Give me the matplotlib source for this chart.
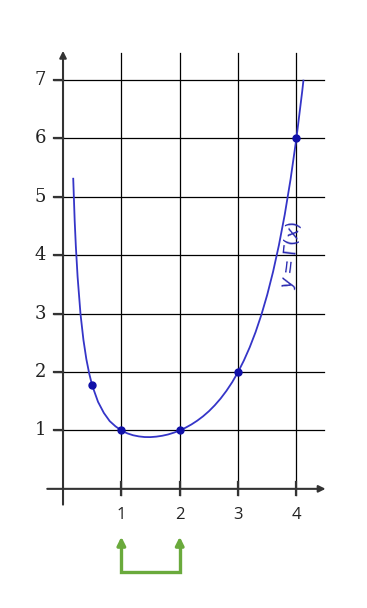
import matplotlib.pyplot as plt

# curve (y = Gamma(x))
curve_x = [0.175, 0.2, 0.22, 0.25, 0.3, 0.35, 0.4, 0.45, 0.5, 0.6, 0.7, 0.8, 0.9, 1.0,
           1.1, 1.2, 1.3, 1.4, 1.5, 1.6, 1.7, 1.8, 1.9, 2.0, 2.1, 2.2, 2.3, 2.4, 2.5,
           2.6, 2.7, 2.8, 2.9, 3.0, 3.1, 3.2, 3.3, 3.4, 3.5, 3.6, 3.7, 3.8, 3.9, 4.0,
           4.1, 4.12]
curve_y = [5.31, 4.59, 4.15, 3.63, 2.99, 2.55, 2.22, 1.97, 1.77, 1.49, 1.30, 1.16, 1.07, 1.0,
           0.951, 0.918, 0.898, 0.887, 0.886, 0.894, 0.909, 0.931, 0.962, 1.0, 1.047, 1.102,
           1.167, 1.242, 1.329, 1.430, 1.545, 1.677, 1.827, 2.0, 2.198, 2.424, 2.683, 2.981,
           3.323, 3.717, 4.171, 4.694, 5.30, 6.0, 6.81, 6.99]

point_x = [0.5, 1, 2, 3, 4]
point_y = [1.77, 1, 1, 2, 6]

xticks = [1, 2, 3, 4]
yticks = [1, 2, 3, 4, 5, 6, 7]

fig = plt.figure(figsize=(3.67, 6.08), dpi=100)
ax = fig.add_axes([0, 0, 1, 1])
ax.set_xlim(-1.08, 5.21)
ax.set_ylim(-2.04, 8.37)
ax.axis('off')

# grid
for y in yticks:
    ax.plot([-0.15, 4.47], [y, y], color='black', lw=0.9)
for x in xticks:
    ax.plot([x, x], [-0.11, 7.47], color='black', lw=0.9)
    ax.plot([x, x], [-0.11, 0.12], color='#333333', lw=1.6)
for y in yticks:
    ax.plot([-0.15, 0], [y, y], color='#333333', lw=1.6)

# axes with arrows
ax.annotate('', xy=(0, 7.5), xytext=(0, -0.27),
            arrowprops=dict(arrowstyle='-|>', color='#333333', lw=1.5,
                            mutation_scale=10, shrinkA=0, shrinkB=0))
ax.annotate('', xy=(4.5, 0), xytext=(-0.27, 0),
            arrowprops=dict(arrowstyle='-|>', color='#333333', lw=1.5,
                            mutation_scale=10, shrinkA=0, shrinkB=0))

# tick labels
for y in yticks:
    ax.text(-0.39, y, str(y), ha='center', va='center', fontsize=13,
            family='DejaVu Serif', color='#222222')
for x in xticks:
    ax.text(x, -0.45, str(x), ha='center', va='center', fontsize=12,
            family='Open Sans', color='#222222')

# gamma curve and points
ax.plot(curve_x, curve_y, color='#3535c8', lw=1.3)
ax.plot(point_x, point_y, 'o', color='#1010a8', ms=5)
ax.text(3.92, 4.0, r'$y = \Gamma(x)$', rotation=83, ha='center', va='center',
        fontsize=13, color='#2828b0')

# green bracket below x=1 and x=2
green = '#6aaa3c'
ax.plot([1, 1, 2, 2], [-0.95, -1.42, -1.42, -0.95], color=green, lw=2.4,
        solid_joinstyle='miter')
for x in [1, 2]:
    ax.annotate('', xy=(x, -0.82), xytext=(x, -1.0),
                arrowprops=dict(arrowstyle='-|>', color=green, lw=2.4,
                                mutation_scale=12, shrinkA=0, shrinkB=0))

fig.savefig('out.png', dpi=100)
